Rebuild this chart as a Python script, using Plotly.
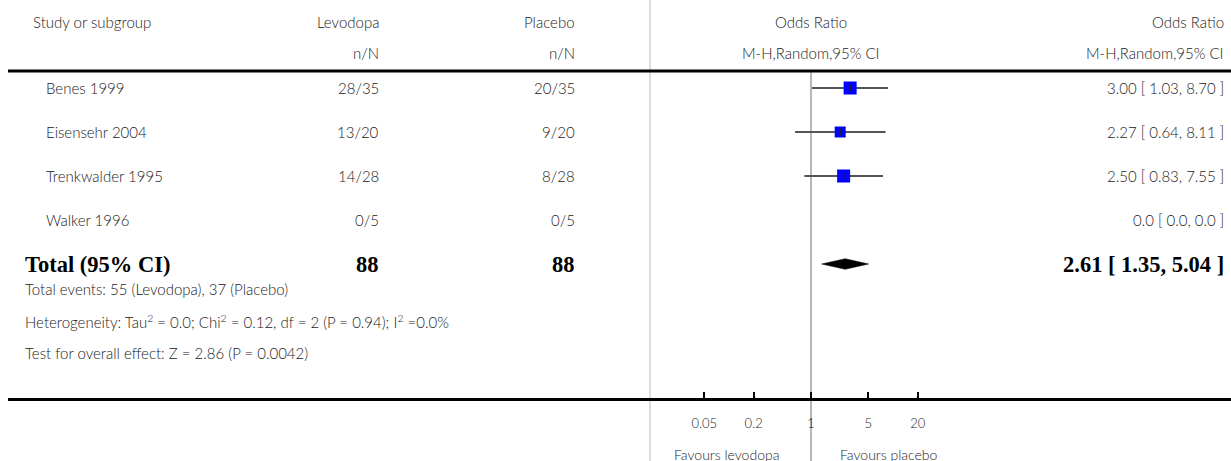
import plotly.graph_objects as go

# ---- study data ----
studies = ["Benes 1999", "Eisensehr 2004", "Trenkwalder 1995", "Walker 1996"]
levodopa_nN = ["28/35", "13/20", "14/28", "0/5"]
placebo_nN = ["20/35", "9/20", "8/28", "0/5"]
odds_ratio = [3.00, 2.27, 2.50, None]
ci_low = [1.03, 0.64, 0.83, None]
ci_high = [8.70, 8.11, 7.55, None]
or_text = ["3.00 [ 1.03, 8.70 ]", "2.27 [ 0.64, 8.11 ]", "2.50 [ 0.83, 7.55 ]", "0.0 [ 0.0, 0.0 ]"]

total_levodopa = "88"
total_placebo = "88"
total_or = 2.61
total_low = 1.35
total_high = 5.04
total_text = "2.61 [ 1.35, 5.04 ]"

footnotes = [
    "Total events: 55 (Levodopa), 37 (Placebo)",
    "Heterogeneity: Tau<sup>2</sup> = 0.0; Chi<sup>2</sup> = 0.12, df = 2 (P = 0.94); I<sup>2</sup> =0.0%",
    "Test for overall effect: Z = 2.86 (P = 0.0042)",
]

tick_vals = [0.05, 0.2, 1, 5, 20]
tick_text = ["0.05", "0.2", "1", "5", "20"]

# ---- layout geometry (pixels) ----
W, H = 1231, 461
ROW0, ROW_STEP = 88, 44          # first study row centre and row pitch
AXIS_Y = 397.5                   # bottom rule / axis line
LEFT = 8
X_ONE = 811                      # pixel position of OR = 1
PX_PER_DECADE = 82.0
box_px = [13, 11, 13, 0]         # square size per study (weight)

FONT = "Lato"
SERIF = "Liberation Serif"
TXT = "#222222"
BODY = 15
BOLD = 22.5


def px(x):
    return x / W


def py(y):
    return 1 - y / H


x_range = [(LEFT - X_ONE) / PX_PER_DECADE, (W - X_ONE) / PX_PER_DECADE]
y_top = (0 - ROW0) / ROW_STEP
y_bot = (AXIS_Y - ROW0) / ROW_STEP

fig = go.Figure()

rows = list(range(len(studies)))
total_row = len(studies)

# confidence interval whiskers
for i in rows:
    if odds_ratio[i] is None:
        continue
    fig.add_trace(go.Scatter(
        x=[ci_low[i], ci_high[i]], y=[i, i], mode="lines",
        line=dict(color="#555555", width=2), hoverinfo="skip", showlegend=False))

# weighted squares
sq_idx = [i for i in rows if odds_ratio[i] is not None]
fig.add_trace(go.Scatter(
    x=[odds_ratio[i] for i in sq_idx], y=sq_idx, mode="markers",
    marker=dict(symbol="square", size=[box_px[i] for i in sq_idx], color="#0000FF",
                opacity=1, line=dict(width=0)),
    hoverinfo="skip", showlegend=False))
# point estimate tick inside square
fig.add_trace(go.Scatter(
    x=[odds_ratio[i] for i in sq_idx], y=sq_idx, mode="markers",
    marker=dict(symbol="line-ns", size=5, opacity=1, line=dict(color="#222222", width=1.5)),
    hoverinfo="skip", showlegend=False))

# pooled estimate diamond
half_h = 5.3 / ROW_STEP
fig.add_trace(go.Scatter(
    x=[total_low, total_or, total_high, total_or, total_low],
    y=[total_row, total_row - half_h, total_row, total_row + half_h, total_row],
    mode="lines", fill="toself", fillcolor="black", line=dict(color="black", width=0.5),
    hoverinfo="skip", showlegend=False))

shapes = [
    # light column divider
    dict(type="line", xref="paper", yref="paper", x0=px(650), x1=px(650), y0=0, y1=1,
         line=dict(color="#dddddd", width=2), layer="below"),
    # line of no effect
    dict(type="line", xref="x", yref="paper", x0=1, x1=1, y0=0, y1=py(72),
         line=dict(color="#888888", width=1.2), layer="below"),
    # header rule
    dict(type="line", xref="paper", yref="paper", x0=px(LEFT), x1=1, y0=py(71), y1=py(71),
         line=dict(color="black", width=3)),
]

ann = []


def text(x, y, s, anchor, size=BODY, bold_serif=False, yref="paper"):
    if bold_serif:
        f = dict(family=SERIF, size=size, color="black", weight="bold")
    else:
        f = dict(family=FONT, size=size, color=TXT, weight=300)
    ann.append(dict(x=px(x), y=y, xref="paper", yref=yref, text=s, showarrow=False,
                    xanchor=anchor, yanchor="middle", font=f))


# header
text(31, py(22), "Study or subgroup", "left")
text(381, py(22), "Levodopa", "right")
text(577, py(22), "Placebo", "right")
text(811, py(22), "Odds Ratio", "center")
text(1226, py(22), "Odds Ratio", "right")
text(381, py(53), "n/N", "right")
text(577, py(53), "n/N", "right")
text(811, py(53), "M-H,Random,95% CI", "center")
text(1226, py(53), "M-H,Random,95% CI", "right")

# study rows
for i in rows:
    text(44, i, studies[i], "left", yref="y")
    text(381, i, levodopa_nN[i], "right", yref="y")
    text(577, i, placebo_nN[i], "right", yref="y")
    text(1226, i, or_text[i], "right", yref="y")

# total row
text(23, total_row, "Total (95% CI)", "left", size=BOLD, bold_serif=True, yref="y")
text(381, total_row, total_levodopa, "right", size=BOLD, bold_serif=True, yref="y")
text(577, total_row, total_placebo, "right", size=BOLD, bold_serif=True, yref="y")
text(1226, total_row, total_text, "right", size=BOLD, bold_serif=True, yref="y")

# footnotes
for k, s in enumerate(footnotes):
    text(23, py(289 + 32 * k), s, "left")

# axis captions
text(727, py(454), "Favours levodopa", "center", size=14)
text(889, py(454), "Favours placebo", "center", size=14)

fig.update_layout(
    width=W, height=H, margin=dict(l=0, r=0, t=0, b=0),
    paper_bgcolor="white", plot_bgcolor="white",
    shapes=shapes, annotations=ann,
    xaxis=dict(type="log", range=x_range, domain=[px(LEFT), 1],
               showgrid=False, zeroline=False, showline=True, linecolor="black", linewidth=3,
               ticks="inside", ticklen=6, tickwidth=2, tickcolor="black",
               tickvals=tick_vals, ticktext=tick_text, ticklabelstandoff=12,
               tickfont=dict(family=FONT, size=13, color=TXT, weight=300),
               fixedrange=True),
    yaxis=dict(range=[y_bot, y_top], domain=[py(AXIS_Y), 1], visible=False,
               showgrid=False, zeroline=False, fixedrange=True),
    showlegend=False,
)

fig.write_html("out.html")
